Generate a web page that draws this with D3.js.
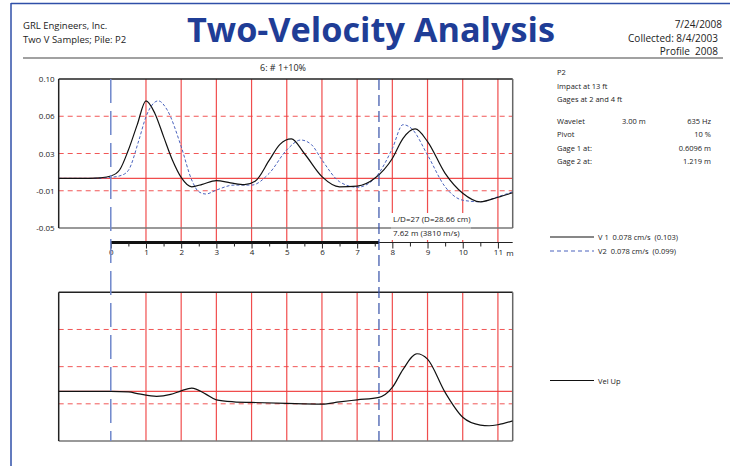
<!DOCTYPE html>
<html>
<head>
<meta charset="utf-8">
<script src="https://cdn.jsdelivr.net/npm/d3@7"></script>
<style>
    body { margin: 0; background: #fff; }
    svg { display: block; font-family: "Open Sans", "Noto Sans", sans-serif; }
</style>
</head>
<body>
<svg id="chart"></svg>
<script>
// Top chart: two velocity records along the pile (m, cm/s)
const v1Depth = [-1.48, -0.6, -0.3, 0, 0.25, 0.5, 0.75, 1.0, 1.25, 1.5, 1.75, 2.0, 2.3, 2.6, 3.0, 3.4, 3.8, 4.1, 4.5, 4.8, 5.13, 5.5, 6.0, 6.5, 7.0, 7.5, 8.0, 8.3, 8.65, 9.0, 9.5, 10.0, 10.5, 11.0, 11.42];
const v1Vel = [0, 0, 0.0005, 0.0023, 0.0084, 0.0285, 0.0538, 0.078, 0.0656, 0.042, 0.0185, 0.001, -0.0085, -0.006, -0.0024, -0.0045, -0.0064, -0.003, 0.018, 0.034, 0.0397, 0.025, 0.0017, -0.0085, -0.0078, 0.0, 0.020, 0.040, 0.0497, 0.037, 0.005, -0.015, -0.0236, -0.019, -0.0145];

const v2Depth = [-1.48, -0.5, 0, 0.3, 0.5, 0.8, 1.0, 1.35, 1.6, 2.0, 2.3, 2.5, 2.7, 3.0, 3.5, 4.0, 4.5, 5.0, 5.4, 5.7, 6.0, 6.5, 7.0, 7.5, 8.0, 8.3, 8.55, 9.0, 9.5, 10.0, 10.5, 11.0, 11.42];
const v2Vel = [0, 0, 0.001, 0.003, 0.008, 0.0386, 0.062, 0.078, 0.069, 0.032, -0.0017, -0.0135, -0.0158, -0.0118, -0.0068, -0.0068, 0.005, 0.0286, 0.0386, 0.034, 0.0185, -0.0034, -0.009, 0.0, 0.030, 0.054, 0.05, 0.0235, -0.0085, -0.022, -0.0236, -0.0186, -0.0135];

// Bottom chart: upward travelling velocity
const upDepth = [-1.48, 0, 0.5, 0.8, 1.3, 1.7, 2.0, 2.3, 2.7, 3.0, 3.5, 4.0, 5.0, 6.0, 6.5, 7.0, 7.62, 8.0, 8.3, 8.7, 9.0, 9.5, 10.0, 10.5, 10.75, 11.0, 11.42];
const upVel = [0, 0, -0.0005, -0.0025, -0.005, -0.003, 0.0006, 0.0033, -0.0027, -0.0085, -0.0105, -0.0111, -0.0121, -0.0128, -0.0105, -0.0085, -0.006, 0.004, 0.022, 0.038, 0.0326, -0.001, -0.026, -0.0339, -0.0346, -0.0336, -0.0297];

// Axis ticks
const yTickValues = [0.10, 0.0625, 0.025, -0.0125, -0.05];
const yTickLabels = ["0.10", "0.06", "0.03", "-0.01", "-0.05"];
const xTickValues = [0, 1, 2, 3, 4, 5, 6, 7, 8, 9, 10, 11];
const xMinorTicks = [0.5, 1.5, 2.5, 3.5, 4.5, 5.5, 6.5, 7.5, 8.5, 9.5, 10.5];
const toeDepth = 7.62;

// Text blocks
const infoLines = ["P2", "Impact at 13 ft", "Gages at 2 and 4 ft"];
const paramRows = [
    ["Wavelet", "3.00 m", "635 Hz"],
    ["Pivot", "", "10 %"],
    ["Gage 1 at:", "", "0.6096 m"],
    ["Gage 2 at:", "", "1.219 m"]
];
const legendTop = ["V 1  0.078 cm/s  (0.103)", "V2  0.078 cm/s  (0.099)"];
const legendBottom = ["Vel Up"];

const width = 730;
const height = 466;
const svg = d3.select("#chart").attr("width", width).attr("height", height);

const red = "#ee3a3a";
const blueLine = "#3550a8";

const plotLeft = 58.7, plotRight = 512.7;
const topY0 = 79, topY1 = 228;
const botY0 = 292.3, botY1 = 441;

const x = d3.scaleLinear().domain([-1.48, 11.42]).range([plotLeft, plotRight]);
const yTop = d3.scaleLinear().domain([-0.05, 0.10]).range([topY1, topY0]);
const yBot = d3.scaleLinear().domain([-0.05, 0.10]).range([botY1, botY0]);

// page frame
svg.append("line").attr("x1", 11).attr("x2", width).attr("y1", 3.5).attr("y2", 3.5)
    .attr("stroke", "#2f4fa8").attr("stroke-width", 1.5);
svg.append("line").attr("x1", 11).attr("x2", 11).attr("y1", 3).attr("y2", height)
    .attr("stroke", "#2f4fa8").attr("stroke-width", 1.5);

// header
svg.append("text").attr("x", 23).attr("y", 29).attr("font-size", 9.5).attr("fill", "#222").text("GRL Engineers, Inc.");
svg.append("text").attr("x", 23).attr("y", 43).attr("font-size", 9.5).attr("fill", "#222").text("Two V Samples; Pile: P2");
svg.append("text").attr("x", 371).attr("y", 42).attr("text-anchor", "middle")
    .attr("font-size", 34).attr("font-weight", "bold").attr("fill", "#1f3d96")
    .attr("textLength", 368).attr("lengthAdjust", "spacingAndGlyphs")
    .text("Two-Velocity Analysis");
const rightHead = [["7/24/2008", 722, 28], ["Collected: 8/4/2003", 718, 42], ["Profile  2008", 718, 55]];
rightHead.forEach(([t, rx, ry]) => {
    svg.append("text").attr("x", rx).attr("y", ry).attr("text-anchor", "end")
        .attr("font-size", 10).attr("fill", "#222").attr("xml:space", "preserve").text(t);
});
svg.append("line").attr("x1", 23).attr("x2", 723).attr("y1", 58).attr("y2", 58)
    .attr("stroke", "#444").attr("stroke-width", 1.2);

// chart title
svg.append("text").attr("x", 283).attr("y", 71).attr("text-anchor", "middle")
    .attr("font-size", 9).attr("fill", "#222").text("6: # 1+10%");

function drawPanel(yScale, y0, y1, gridBottom) {
    const g = svg.append("g");
    // horizontal grid
    yTickValues.slice(1, -1).forEach(v => {
        g.append("line").attr("x1", plotLeft).attr("x2", plotRight)
            .attr("y1", yScale(v)).attr("y2", yScale(v))
            .attr("stroke", red).attr("stroke-opacity", 0.85).attr("stroke-width", 1)
            .attr("stroke-dasharray", "5,4");
    });
    g.append("line").attr("x1", plotLeft).attr("x2", plotRight)
        .attr("y1", yScale(0)).attr("y2", yScale(0))
        .attr("stroke", red).attr("stroke-opacity", 0.9).attr("stroke-width", 1.2);
    // vertical grid
    xTickValues.slice(1).forEach(v => {
        g.append("line").attr("x1", x(v)).attr("x2", x(v))
            .attr("y1", y0).attr("y2", gridBottom)
            .attr("stroke", red).attr("stroke-opacity", 0.9).attr("stroke-width", 1.2);
    });
    // frame
    g.append("line").attr("x1", plotLeft).attr("x2", plotRight).attr("y1", y0).attr("y2", y0)
        .attr("stroke", "#222").attr("stroke-width", 1.5);
    g.append("line").attr("x1", plotLeft).attr("x2", plotRight).attr("y1", y1).attr("y2", y1)
        .attr("stroke", "#777").attr("stroke-width", 1.5);
    g.append("line").attr("x1", plotLeft).attr("x2", plotLeft).attr("y1", y0).attr("y2", y1)
        .attr("stroke", "#222").attr("stroke-width", 1.5);
    g.append("line").attr("x1", plotRight).attr("x2", plotRight).attr("y1", y0).attr("y2", y1)
        .attr("stroke", "#666").attr("stroke-width", 1.5);
    return g;
}

drawPanel(yTop, topY0, topY1, 242);
drawPanel(yBot, botY0, botY1, botY1);

// y labels on top chart
svg.append("g")
    .attr("transform", `translate(${plotLeft},0)`)
    .call(d3.axisLeft(yTop).tickValues(yTickValues).tickFormat((d, i) => yTickLabels[i]).tickSize(0).tickPadding(4))
    .call(g => g.select(".domain").remove())
    .call(g => g.selectAll("text").attr("font-size", 8).attr("fill", "#222").attr("font-family", "Open Sans"));

// clip paths
svg.append("clipPath").attr("id", "clipTop").append("rect")
    .attr("x", plotLeft).attr("y", topY0).attr("width", plotRight - plotLeft).attr("height", topY1 - topY0);
svg.append("clipPath").attr("id", "clipBot").append("rect")
    .attr("x", plotLeft).attr("y", botY0).attr("width", plotRight - plotLeft).attr("height", botY1 - botY0);

const lineTop = d3.line().x(d => x(d[0])).y(d => yTop(d[1])).curve(d3.curveMonotoneX);
const lineBot = d3.line().x(d => x(d[0])).y(d => yBot(d[1])).curve(d3.curveMonotoneX);

svg.append("path").datum(d3.zip(v2Depth, v2Vel))
    .attr("clip-path", "url(#clipTop)")
    .attr("d", lineTop).attr("fill", "none")
    .attr("stroke", "#4a63bd").attr("stroke-width", 1).attr("stroke-dasharray", "3,2");
svg.append("path").datum(d3.zip(v1Depth, v1Vel))
    .attr("clip-path", "url(#clipTop)")
    .attr("d", lineTop).attr("fill", "none")
    .attr("stroke", "#111").attr("stroke-width", 1.2);
svg.append("path").datum(d3.zip(upDepth, upVel))
    .attr("clip-path", "url(#clipBot)")
    .attr("d", lineBot).attr("fill", "none")
    .attr("stroke", "#111").attr("stroke-width", 1.2);

// annotation box
svg.append("rect").attr("x", 391).attr("y", 213).attr("width", 80).attr("height", 27).attr("fill", "#fff");
svg.append("line").attr("x1", 391).attr("x2", 471).attr("y1", topY1).attr("y2", topY1)
    .attr("stroke", "#777").attr("stroke-width", 1);
svg.append("text").attr("x", 393).attr("y", 222).attr("font-size", 8).attr("fill", "#222").text("L/D=27 (D=28.66 cm)");
svg.append("text").attr("x", 393).attr("y", 236).attr("font-size", 8).attr("fill", "#222").text("7.62 m (3810 m/s)");

// scale bar (depth axis)
const scaleY = 242.5;
svg.append("line").attr("x1", x(0)).attr("x2", plotRight).attr("y1", scaleY).attr("y2", scaleY)
    .attr("stroke", "#222").attr("stroke-width", 1);
svg.append("line").attr("x1", x(0)).attr("x2", x(toeDepth)).attr("y1", scaleY).attr("y2", scaleY)
    .attr("stroke", "#111").attr("stroke-width", 3);
svg.append("g").attr("transform", `translate(0,${scaleY})`)
    .call(d3.axisBottom(x).tickValues(xMinorTicks).tickSize(4).tickFormat(""))
    .call(g => g.select(".domain").remove())
    .call(g => g.selectAll("line").attr("stroke", "#222"));
svg.append("g").attr("transform", `translate(0,${scaleY})`)
    .call(d3.axisBottom(x).tickValues(xTickValues).tickSize(6).tickPadding(1).tickFormat(d3.format("d")))
    .call(g => g.select(".domain").remove())
    .call(g => g.selectAll("line").attr("stroke", "#222"))
    .call(g => g.selectAll("text").attr("font-size", 8).attr("fill", "#222").attr("font-family", "Open Sans"));
svg.append("text").attr("x", 510).attr("y", 256).attr("text-anchor", "middle")
    .attr("font-size", 8).attr("fill", "#222").text("m");

// marker lines at impact (0) and toe
svg.append("line").attr("x1", x(0)).attr("x2", x(0)).attr("y1", topY0).attr("y2", botY1)
    .attr("stroke", "#7088cc").attr("stroke-width", 1.5).attr("stroke-dasharray", "24,8");
svg.append("line").attr("x1", x(toeDepth)).attr("x2", x(toeDepth)).attr("y1", topY0).attr("y2", botY1)
    .attr("stroke", blueLine).attr("stroke-width", 1.2).attr("stroke-dasharray", "11,5");

// right info panel
infoLines.forEach((t, i) => {
    svg.append("text").attr("x", 557).attr("y", 75 + i * 13.5).attr("font-size", 7.5).attr("fill", "#222").text(t);
});
paramRows.forEach((r, i) => {
    const yy = 124 + i * 13.3;
    svg.append("text").attr("x", 557).attr("y", yy).attr("font-size", 7.5).attr("fill", "#222").text(r[0]);
    svg.append("text").attr("x", 622).attr("y", yy).attr("font-size", 7.5).attr("fill", "#222").text(r[1]);
    svg.append("text").attr("x", 711).attr("y", yy).attr("text-anchor", "end").attr("font-size", 7.5).attr("fill", "#222").text(r[2]);
});

// legends
const legStyles = [
    { stroke: "#111", dash: null, w: 1.2 },
    { stroke: "#4a63bd", dash: "4,3", w: 1 }
];
legendTop.forEach((t, i) => {
    const yy = 237 + i * 14;
    svg.append("line").attr("x1", 550).attr("x2", 594).attr("y1", yy).attr("y2", yy)
        .attr("stroke", legStyles[i].stroke).attr("stroke-width", legStyles[i].w)
        .attr("stroke-dasharray", legStyles[i].dash);
    svg.append("text").attr("x", 598).attr("y", yy + 3).attr("font-size", 7.5).attr("fill", "#222")
        .attr("xml:space", "preserve").text(t);
});
legendBottom.forEach((t, i) => {
    const yy = 380.5;
    svg.append("line").attr("x1", 550).attr("x2", 594).attr("y1", yy).attr("y2", yy)
        .attr("stroke", "#111").attr("stroke-width", 1.2);
    svg.append("text").attr("x", 598).attr("y", yy + 3).attr("font-size", 7.5).attr("fill", "#222").text(t);
});
</script>
</body>
</html>
